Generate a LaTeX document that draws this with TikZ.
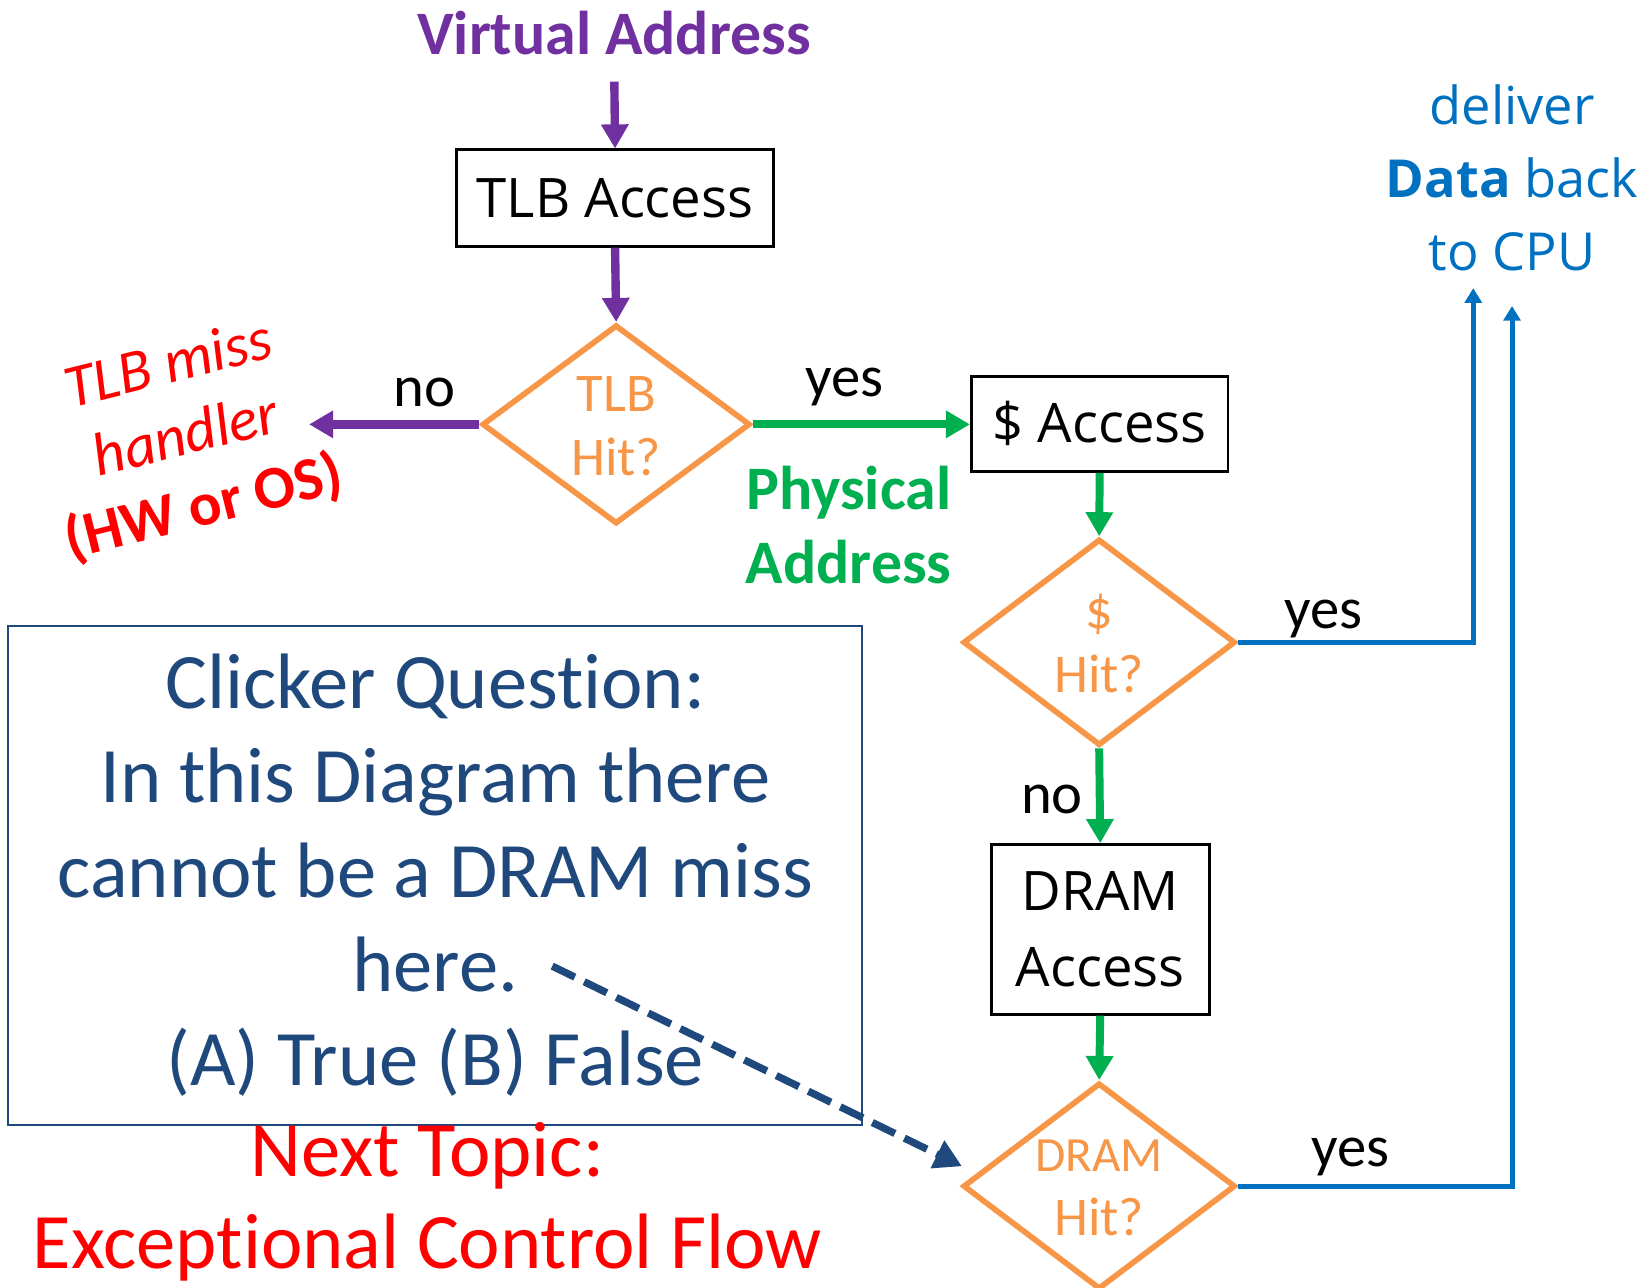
\documentclass[tikz,border=0pt]{standalone}
\usepackage{fontspec}
\setmainfont{Carlito}[RawFeature={-liga;-clig;-calt;-dlig}]
\newfontfamily\osans{Open Sans}
\usetikzlibrary{shapes.geometric,arrows.meta}
% keep "t" and "i" as separate glyphs
\newcommand\nolig{\kern0pt{}}
\definecolor{vpurple}{HTML}{7030A0}
\definecolor{pgreen}{HTML}{00B050}
\definecolor{dorange}{HTML}{F79646}
\definecolor{cblue}{HTML}{0070C0}
\definecolor{qblue}{HTML}{1F497D}
\definecolor{hred}{HTML}{FF0000}
\tikzset{
  procbox/.style={draw=black, line width=1.3pt, fill=white, inner sep=0pt,
    font=\osans\fontsize{26pt}{36pt}\selectfont, align=center},
  decision/.style={diamond, draw=dorange, line width=2.7pt, inner sep=0pt,
    minimum width=130pt, minimum height=98.5pt},
  dtext/.style={text=dorange, inner sep=0pt, align=center,
    font=\fontsize{26pt}{30.5pt}\selectfont},
  lbl/.style={inner sep=0pt, anchor=base, font=\fontsize{28pt}{30pt}\selectfont},
  parrow/.style={draw=vpurple, line width=4pt, -{Triangle[length=11.5pt,width=12.5pt]}},
  garrow/.style={draw=pgreen, line width=3.8pt, -{Triangle[length=11.5pt,width=12.5pt]}},
  barrow/.style={draw=cblue, line width=2.4pt, -{Triangle[length=7pt,width=8pt]}},
  qarrow/.style={draw=qblue, line width=3.5pt, dash pattern=on 12pt off 5pt,
    -{Triangle[length=13pt,width=14pt]}},
}
\begin{document}
\begin{tikzpicture}[x=0.5pt,y=-0.5pt]
\useasboundingbox (0,0) rectangle (1568,1229);

% translation stage
\node[inner sep=0pt, anchor=base, text=vpurple, font=\bfseries\fontsize{29.5pt}{35pt}\selectfont]
  (va) at (586,52) {Virtual Address};
\node[procbox, minimum width=151pt, minimum height=46pt] (tlb) at (587,189) {TLB Access};
\node[decision, minimum width=128pt, minimum height=95pt] (tlbhit) at (588,405) {};
\node[dtext] (tlbhit-t) at (588,407) {TLB\\Hit?};
\coordinate (missend) at (295,405);
\node[lbl] (no1) at (405,388) {no};
\node[lbl] (yes1) at (806,378) {yes};
\node[inner sep=0pt, rotate=14, text=hred, align=center, font=\fontsize{29pt}{35pt}\selectfont]
  (miss) at (178,418) {{\itshape TLB miss}\\{\itshape handler}\\{\bfseries (HW or OS)}};
\node[inner sep=0pt, text=pgreen, align=center, font=\bfseries\fontsize{29.5pt}{35pt}\selectfont]
  (pa) at (810,501) {Physical\\Address};

% cache stage
\node[procbox, minimum width=122.5pt, minimum height=45.5pt] (cacc) at (1049.5,404.5) {\$ Access};
\node[decision] (chit) at (1049,613) {};
\node[dtext] (chit-t) at (1049,614) {\$\\Hit?};
\node[lbl] (yes2) at (1263,600) {yes};
\node[lbl] (no2) at (1004,776) {no};

% memory stage
\node[procbox, minimum width=104pt, minimum height=81pt] (dram) at (1050,887) {DRAM\\Access};
\node[decision] (dhit) at (1049,1132) {};
\node[dtext] (dhit-t) at (1049,1134) {{\fontsize{23.5pt}{30.5pt}\selectfont DRAM}\\Hit?};
\node[lbl] (yes3) at (1289,1113) {yes};

% result
\node[inner sep=0pt, text=cblue, align=center, font=\osans\fontsize{25pt}{34.75pt}\selectfont]
  (cpu) at (1443,170) {deliver\\{\bfseries Data} back\\to CPU};
\coordinate (up1) at (1406,275);
\coordinate (up2) at (1443,292);

% question box
\node[draw=qblue, line width=1pt, inner sep=0pt, minimum width=407.5pt, minimum height=238.5pt,
  text=qblue, align=center, font=\fontsize{37.5pt}{45pt}\selectfont]
  (q) at (415.5,835.5) {Clicker Quest\nolig ion:\\In this Diagram there\\cannot be a DRAM miss\\here.\\(A) True (B) False};
\node[inner sep=0pt, text=hred, align=center, font=\fontsize{37.5pt}{44pt}\selectfont]
  (next) at (408,1147) {Next Topic:\\Except\nolig ional Control Flow};
\coordinate (qa) at (527,922);
\coordinate (qb) at (918,1113);

% connectors
\draw[parrow, shorten <=12.5pt] (va.south) -- (tlb.north);
\draw[parrow] (tlb.south) -- (tlbhit.north);
\draw[parrow] (tlbhit.west) -- (missend);
\draw[garrow] (tlbhit.east) -- (tlbhit.east -| cacc.west);
\draw[garrow] (cacc.south) -- (chit.north);
\draw[garrow] (chit.south) -- (dram.north);
\draw[garrow] (dram.south) -- (dhit.north);
\draw[barrow] (chit.east) -| (up1);
\draw[barrow] (dhit.east) -| (up2);
\draw[qarrow] (qa) -- (qb);
\end{tikzpicture}
\end{document}
